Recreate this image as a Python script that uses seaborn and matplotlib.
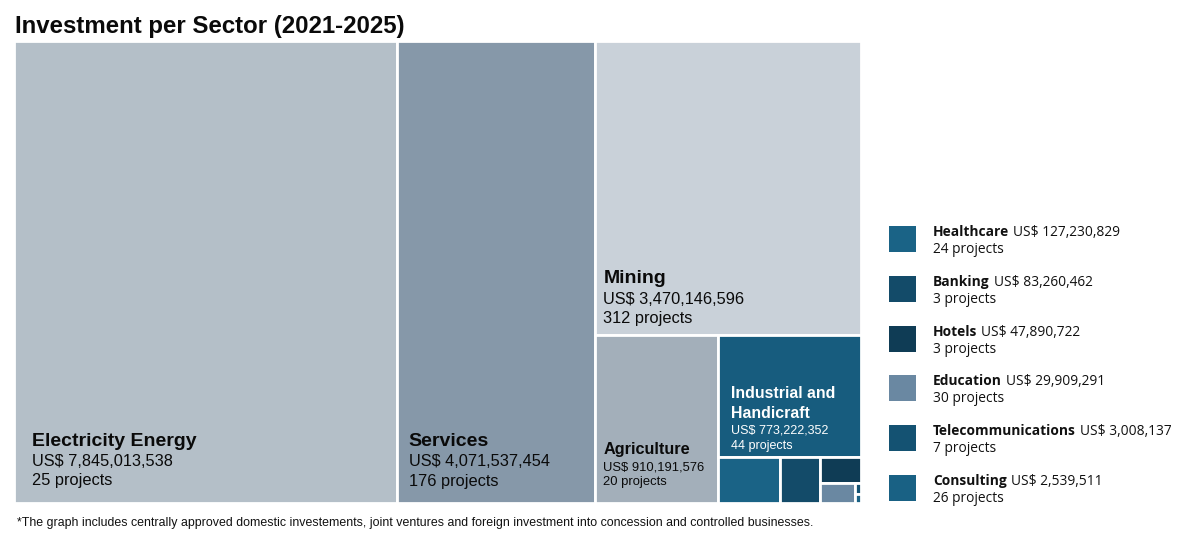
import matplotlib
matplotlib.use("Agg")
import matplotlib.pyplot as plt
from matplotlib.patches import Rectangle
import seaborn as sns

# ---------------- data ----------------
sectors = ["Electricity Energy", "Services", "Mining", "Agriculture",
           "Industrial and Handicraft", "Healthcare", "Banking", "Hotels",
           "Education", "Telecommunications", "Consulting"]
investment = [7845013538, 4071537454, 3470146596, 910191576, 773222352,
              127230829, 83260462, 47890722, 29909291, 3008137, 2539511]
projects = [25, 176, 312, 20, 44, 24, 3, 3, 30, 7, 26]
legend_sectors = ["Healthcare", "Banking", "Hotels", "Education",
                  "Telecommunications", "Consulting"]

title = "Investment per Sector (2021-2025)"
footnote = ("*The graph includes centrally approved domestic investements, joint ventures "
            "and foreign investment into concession and controlled businesses.")

# ---------------- style ----------------
colors = {
    "Electricity Energy": "#b4bfc8",
    "Services": "#8698a9",
    "Mining": "#c9d1d9",
    "Agriculture": "#a3afba",
    "Industrial and Handicraft": "#175c7e",
    "Healthcare": "#1a6386",
    "Banking": "#134b69",
    "Hotels": "#0f3c55",
    "Education": "#6a88a2",
    "Telecommunications": "#145272",
    "Consulting": "#196184",
}
# label style: name lines, dx, bottom pad, name size, value size, gaps, text colour
label_style = {
    "Electricity Energy": dict(lines=["Electricity Energy"], dx=18, pad=18, ns=14.0, vs=11.8, gv=19, gn=20, nl=19, c="#0a0a0a"),
    "Services": dict(lines=["Services"], dx=12, pad=17, ns=14.0, vs=11.8, gv=20, gn=20, nl=19, c="#0a0a0a"),
    "Mining": dict(lines=["Mining"], dx=8, pad=12, ns=14.0, vs=11.8, gv=19, gn=21, nl=19, c="#0a0a0a"),
    "Agriculture": dict(lines=["Agriculture"], dx=8, pad=18, ns=11.7, vs=9.4, gv=15, gn=16, nl=16, c="#0a0a0a"),
    "Industrial and Handicraft": dict(lines=["Industrial and", "Handicraft"], dx=13, pad=8, ns=11.4, vs=9.0, gv=15, gn=16, nl=20, c="white"),
}

sns.set_theme(style="white")
plt.rcParams["font.family"] = ["Liberation Sans", "DejaVu Sans"]

W, H = 1196, 539
fig = plt.figure(figsize=(W / 100, H / 100), dpi=100)
fig.patch.set_facecolor("white")

# treemap area in pixels
X0, Y0, X1, Y1 = 14, 41, 861, 503
TW, TH = X1 - X0, Y1 - Y0
ax = fig.add_axes([X0 / W, 1 - Y1 / H, TW / W, TH / H])
ax.set_xlim(0, TW)
ax.set_ylim(TH, 0)
ax.axis("off")


def slice_layout(vals, x, y, w, h):
    """Greedy slice: each item takes a strip along the longer side."""
    rects = []
    remaining = float(sum(vals))
    for v in vals:
        frac = v / remaining
        if w >= h:
            cw = w * frac
            rects.append((x, y, cw, h))
            x += cw
            w -= cw
        else:
            ch = h * frac
            rects.append((x, y, w, ch))
            y += ch
            h -= ch
        remaining -= v
    return rects


rects = slice_layout(investment, 0, 0, TW, TH)
for name, val, npj, (rx, ry, rw, rh) in zip(sectors, investment, projects, rects):
    ax.add_patch(Rectangle((rx, ry), rw, rh, facecolor=colors[name],
                           edgecolor="white", linewidth=2.0))
    st = label_style.get(name)
    if st is None:
        continue
    bx = rx + st["dx"]
    yb = ry + rh - st["pad"]
    ax.text(bx, yb, f"{npj} projects", fontsize=st["vs"], color=st["c"], va="baseline", ha="left")
    yb -= st["gv"]
    ax.text(bx, yb, f"US$ {val:,}", fontsize=st["vs"], color=st["c"], va="baseline", ha="left")
    yb -= st["gn"]
    for i, ln in enumerate(reversed(st["lines"])):
        ax.text(bx, yb - i * st["nl"], ln, fontsize=st["ns"], fontweight="bold",
                color=st["c"], va="baseline", ha="left")

# overlay axes for title / legend / footnote in pixel coordinates
ov = fig.add_axes([0, 0, 1, 1], facecolor="none")
ov.set_xlim(0, W)
ov.set_ylim(H, 0)
ov.axis("off")

ov.text(15, 33, title, fontsize=17.3, fontweight="bold", color="#0a0a0a", va="baseline", ha="left")
ov.text(17, 526, footnote, fontsize=8.93, color="#111111", va="baseline", ha="left")

# legend
lg_font = ["Open Sans", "DejaVu Sans"]
renderer = fig.canvas.get_renderer()
inv = ov.transData.inverted()
for i, name in enumerate(legend_sectors):
    k = sectors.index(name)
    top = 226 + i * 49.8
    ov.add_patch(Rectangle((889, top), 27, 26, facecolor=colors[name], edgecolor="none"))
    t = ov.text(933, top + 10, name, fontsize=9.9, fontweight="bold", color="#111111",
                va="baseline", ha="left", family=lg_font)
    bb = t.get_window_extent(renderer=renderer)
    xend = inv.transform((bb.x1, bb.y0))[0]
    ov.text(xend + 4, top + 10, f"US$ {investment[k]:,}", fontsize=9.9, color="#111111",
            va="baseline", ha="left", family=lg_font)
    ov.text(933, top + 27, f"{projects[k]} projects", fontsize=9.9, color="#111111",
            va="baseline", ha="left", family=lg_font)

fig.savefig("out.png", dpi=100)
